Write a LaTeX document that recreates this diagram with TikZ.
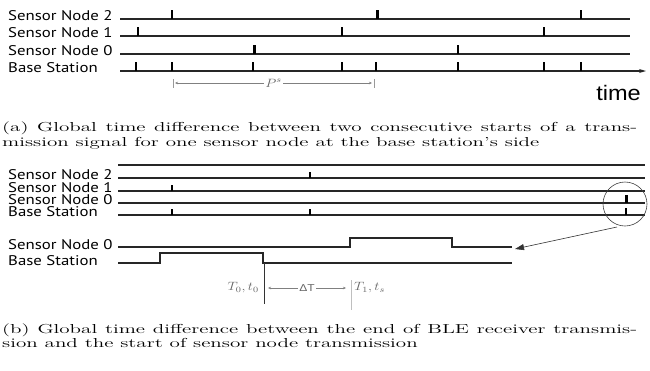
\documentclass[tikz,border=0pt]{standalone}
\usepackage{fontspec}
\setsansfont{PT Sans}
\newfontfamily\axisfont{Liberation Sans}
\usepackage{graphicx}
\usetikzlibrary{positioning, arrows.meta}
\newcommand{\hs}[1]{\scalebox{1.2}[1]{#1}}
\newcommand{\hcap}[1]{\scalebox{1.62}[1]{#1}}

\begin{document}
\begin{tikzpicture}[
    x=1pt, y=-1pt,
    % Gaya untuk label sinyal
    sig_label/.style={
        anchor=base west,
        inner sep=0pt,
        font=\sffamily\fontsize{14}{14}\selectfont
    },
    % Gaya untuk garis sinyal
    sig_line/.style={line width=1.3pt, draw=black!85},
    pulse/.style={line width=1.2pt},
    pulse_thick/.style={line width=3pt},
    % Gaya untuk panah ukuran
    dim_arrow/.style={
        {Stealth[length=3pt,width=2.5pt]}-{Stealth[length=3pt,width=2.5pt]},
        draw=black!50,
        line width=0.4pt
    },
    dim_label/.style={fill=white, inner sep=1.5pt, text=black!60, font=\fontsize{12}{12}\selectfont},
    cap_line/.style={anchor=base west, inner sep=0pt, font=\fontsize{13}{13}\selectfont}
]
\useasboundingbox (0,0) rectangle (650,370);

% =====================================================================
% (a) SINYAL PERIODIK
% =====================================================================
\node[sig_label] (a2) at (8,20) {\hs{Sensor Node 2}};
\node[sig_label] (a1) at (8,37) {\hs{Sensor Node 1}};
\node[sig_label] (a0) at (8,55) {\hs{Sensor Node 0}};
\node[sig_label] (aB) at (8,72) {\hs{Base Station}};

\draw[sig_line] (120,19) -- (630,19);
\draw[sig_line] (120,36) -- (630,36);
\draw[sig_line] (120,54) -- (630,54);
\draw[sig_line, -{Stealth[length=7pt,width=4pt]}] (120,71) -- (646,71);

\foreach \x in {172,581} \draw[pulse] (\x,19) -- ++(0,-9);
\draw[pulse_thick] (377,19) -- ++(0,-9);
\foreach \x in {138,342,544} \draw[pulse] (\x,36) -- ++(0,-9);
\draw[pulse_thick] (254,54) -- ++(0,-9);
\draw[pulse] (458,54) -- ++(0,-9);
\foreach \x in {136,172,253,342,376,458,544,581} \draw[pulse] (\x,71) -- ++(0,-9);

% periode
\coordinate (ps_l) at (175,83);
\coordinate (ps_r) at (372,83);
\draw[dim_arrow] (ps_l) -- node[dim_label] {\hs{$P^s$}} (ps_r);
\draw[black!40, line width=0.4pt] (173,79) -- (173,88) (374,79) -- (374,88);

\node[anchor=base east, inner sep=0pt, font=\axisfont\fontsize{21}{21}\selectfont] (time) at (641,100) {\scalebox{1.12}[1]{time}};

\node[cap_line] (capA1) at (2,131) {\hcap{\makebox[392pt][s]{(a) Global time difference between two consecutive starts of a trans-}}};
\node[cap_line] (capA2) at (2,146) {\hcap{mission signal for one sensor node at the base station's side}};

% =====================================================================
% (b) SELISIH WAKTU
% =====================================================================
\node[sig_label] (b2) at (8,179) {\hs{Sensor Node 2}};
\node[sig_label] (b1) at (8,192) {\hs{Sensor Node 1}};
\node[sig_label] (b0) at (8,204) {\hs{Sensor Node 0}};
\node[sig_label] (bB) at (8,216) {\hs{Base Station}};

\foreach \y in {165,178,191,203,215} \draw[sig_line] (118,\y) -- (645,\y);
\draw[pulse] (310,178) -- ++(0,-6);
\draw[pulse] (172,191) -- ++(0,-6);
\draw[pulse_thick] (626,203) -- ++(0,-8);
\foreach \x in {172,310} \draw[pulse] (\x,215) -- ++(0,-6);
\draw[pulse] (626,215) -- ++(0,-7);

\draw[black!75, line width=0.6pt] (625,204) circle (22);
\coordinate (zoom_from) at (617,227);
\coordinate (zoom_to) at (515,249);
\draw[black!80, line width=0.6pt, -{Triangle[length=9pt,width=6pt]}] (zoom_from) -- (zoom_to);

% detail sinyal
\node[sig_label] (c0) at (8,249) {\hs{Sensor Node 0}};
\node[sig_label] (cB) at (8,265) {\hs{Base Station}};
\draw[sig_line] (118,247) -- (350,247) -- (350,238) -- (452,238) -- (452,247) -- (512,247);
\draw[sig_line] (118,263) -- (160,263) -- (160,253) -- (263,253) -- (263,263) -- (512,263);
\draw[black!80, line width=0.5pt] (264,263) -- (264,304);
\draw[black!25, line width=0.8pt] (351,280) -- (351,310);

\coordinate (dt_l) at (268,288);
\coordinate (dt_r) at (346,288);
\draw[dim_arrow] (dt_l) -- node[dim_label, font=\axisfont\fontsize{10}{10}\selectfont] {\hs{ΔT}} (dt_r);
\node[anchor=east, inner sep=1pt, text=black!60, font=\fontsize{11.5}{11.5}\selectfont] (t0) at (260,288) {\hs{$T_0, t_0$}};
\node[anchor=west, inner sep=1pt, text=black!60, font=\fontsize{11.5}{11.5}\selectfont] (t1) at (353,288) {\hs{$T_1, t_s$}};

\node[cap_line] (capB1) at (2,333) {\hcap{\makebox[392pt][s]{(b) Global time difference between the end of BLE receiver transmis-}}};
\node[cap_line] (capB2) at (2,347) {\hcap{sion and the start of sensor node transmission}};

\end{tikzpicture}
\end{document}
